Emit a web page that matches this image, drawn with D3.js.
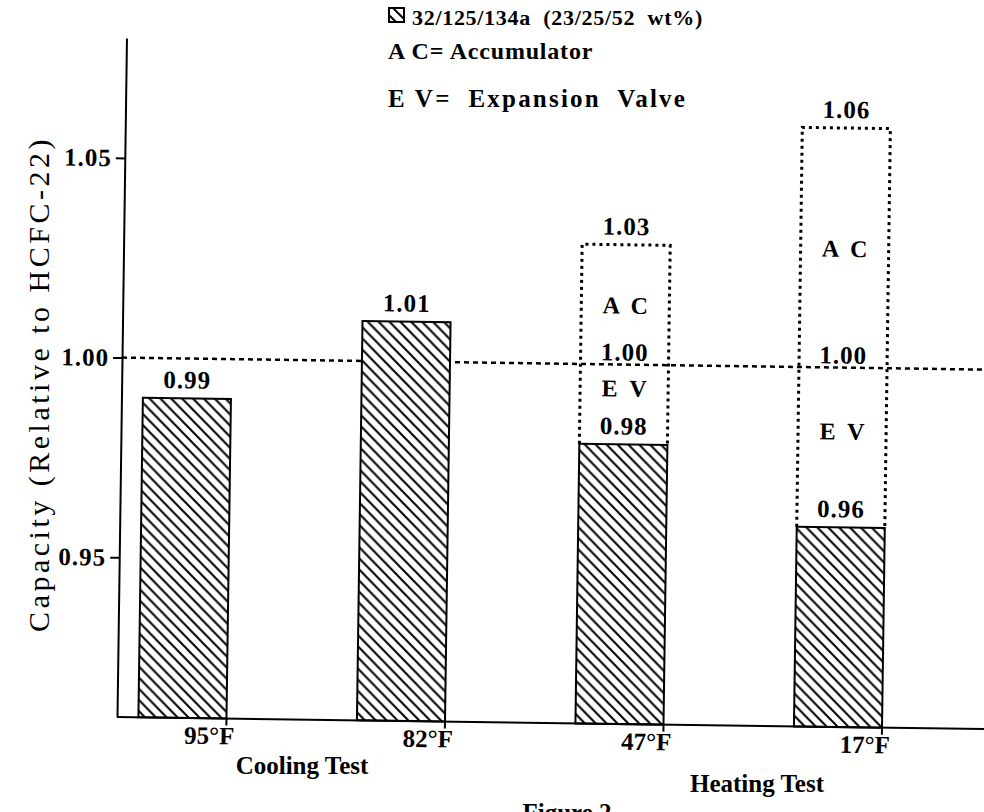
<!DOCTYPE html>
<html>
<head>
<meta charset="utf-8">
<script src="https://cdn.jsdelivr.net/npm/d3@7"></script>
<style>
  html, body { margin: 0; padding: 0; background: #fff; }
  svg { display: block; }
  text { font-family: "Liberation Serif", "Times New Roman", serif; fill: #000; }
</style>
</head>
<body>
<script>
// ---------------- data ----------------
const categories   = ["95°F", "82°F", "47°F", "17°F"];
const capacity     = [0.99, 1.01, 0.98, 0.96];          // hatched bars (EV)
const accumulator  = [null, null, 1.03, 1.06];           // dotted AC boxes
const baselineValue = 1.00;                              // HCFC-22 reference
const yTicks       = [0.95, 1.00, 1.05];
const groupLabels  = ["Cooling Test", "Heating Test"];
const legendSeries = "32/125/134a  (23/25/52  wt%)";
const legendNotes  = ["A C= Accumulator", "E V=  Expansion  Valve"];
const yTitle       = "Capacity (Relative to HCFC-22)";
const caption      = "Figure 2";

// ---------------- setup ----------------
const W = 984, H = 812;
const svg = d3.select("body").append("svg").attr("width", W).attr("height", H);

const defs = svg.append("defs");
const pat = defs.append("pattern").attr("id", "hatch")
  .attr("patternUnits", "userSpaceOnUse").attr("width", 11).attr("height", 11);
pat.append("rect").attr("width", 11).attr("height", 11).attr("fill", "#fff");
pat.append("path").attr("d", "M-3,8 L3,14 M0,0 L11,11 M8,-3 L14,3")
  .attr("stroke", "#000").attr("stroke-width", 2);

const x0 = 117, yBottom = 717;
const g = svg.append("g").attr("transform", `rotate(0.8,${x0},${yBottom})`);

const y = d3.scaleLinear().domain([0.91, 1.08]).range([yBottom, 38]);
const x = d3.scaleBand().domain(categories).range([x0, 903.5])
  .paddingInner(0.597).paddingOuter(0.098);
const bw = x.bandwidth();

const boldFont = (sel, size) => sel.style("font-weight", "bold").style("font-size", size + "px");

// reference dotted line at 1.00
g.append("line")
  .attr("x1", x0).attr("x2", 1010)
  .attr("y1", y(baselineValue)).attr("y2", y(baselineValue))
  .attr("stroke", "#000").attr("stroke-width", 2.5).attr("stroke-dasharray", "5,4");

// dotted accumulator boxes
categories.forEach((c, i) => {
  if (accumulator[i] == null) return;
  const xl = x(c), xr = x(c) + bw;
  g.append("path")
    .attr("d", `M${xl},${y(capacity[i])} V${y(accumulator[i])} H${xr} V${y(capacity[i])}`)
    .attr("fill", "none").attr("stroke", "#000").attr("stroke-width", 3)
    .attr("stroke-dasharray", "3,4");
});

// hatched bars
g.selectAll("rect.bar").data(categories).join("rect").attr("class", "bar")
  .attr("x", d => x(d))
  .attr("y", (d, i) => y(capacity[i]))
  .attr("width", bw)
  .attr("height", (d, i) => yBottom - y(capacity[i]))
  .attr("fill", "url(#hatch)").attr("stroke", "#000").attr("stroke-width", 2);

// value labels on bars
g.selectAll("text.val").data(categories).join("text").attr("class", "val")
  .attr("x", d => x(d) + bw / 2)
  .attr("y", (d, i) => y(capacity[i]) - 10)
  .attr("text-anchor", "middle").style("letter-spacing", "1px")
  .text((d, i) => capacity[i].toFixed(2))
  .call(boldFont, 25);

// box labels
categories.forEach((c, i) => {
  if (accumulator[i] == null) return;
  const cx = x(c) + bw / 2;
  g.append("text").attr("x", cx).attr("y", y(accumulator[i]) - 10)
    .attr("text-anchor", "middle").style("letter-spacing", "1px")
    .text(accumulator[i].toFixed(2)).call(boldFont, 25);
  g.append("text").attr("x", cx).attr("y", y(baselineValue) - 4)
    .attr("text-anchor", "middle").style("letter-spacing", "1px")
    .text(baselineValue.toFixed(2)).call(boldFont, 25);
  const acMid = (y(baselineValue) + y(accumulator[i])) / 2;
  g.append("text").attr("x", cx).attr("y", acMid + 9)
    .attr("text-anchor", "middle").style("white-space", "pre")
    .text("A  C").call(boldFont, 24);
  const evMid = (y(baselineValue) + y(capacity[i])) / 2 - 17;
  g.append("text").attr("x", cx).attr("y", evMid + 9)
    .attr("text-anchor", "middle").style("white-space", "pre")
    .text("E  V").call(boldFont, 24);
});

// y axis
const yAxis = d3.axisLeft(y).tickValues(yTicks).tickFormat(d3.format(".2f"))
  .tickSize(9).tickSizeOuter(0).tickPadding(4);
const gy = g.append("g").attr("transform", `translate(${x0},0)`).call(yAxis);
gy.select(".domain").attr("stroke-width", 2);
gy.selectAll(".tick line").attr("stroke-width", 2);
gy.selectAll(".tick text").style("letter-spacing", "1px").call(boldFont, 25);

// x axis
g.append("line").attr("x1", x0).attr("x2", 1010)
  .attr("y1", yBottom).attr("y2", yBottom)
  .attr("stroke", "#000").attr("stroke-width", 2);
const xAxis = d3.axisBottom(x).tickSize(7).tickSizeOuter(0).tickPadding(1);
const gx = g.append("g").attr("transform", `translate(${bw / 2},${yBottom})`).call(xAxis);
gx.select(".domain").remove();
gx.selectAll(".tick line").attr("stroke-width", 2);
gx.selectAll(".tick text").attr("dx", -17).call(boldFont, 25);

// y title
svg.append("text")
  .attr("transform", "translate(49,384) rotate(-90)")
  .attr("text-anchor", "middle")
  .style("font-size", "30px").style("letter-spacing", "3.5px")
  .text(yTitle);

// group labels & caption
svg.append("text").attr("x", 302).attr("y", 774).attr("text-anchor", "middle")
  .text(groupLabels[0]).call(boldFont, 25);
svg.append("text").attr("x", 757).attr("y", 792).attr("text-anchor", "middle")
  .text(groupLabels[1]).call(boldFont, 25);
svg.append("text").attr("x", 567).attr("y", 821).attr("text-anchor", "middle")
  .text(caption).call(boldFont, 25);

// legend
const lg = svg.append("g");
lg.append("rect").attr("x", 389).attr("y", 8).attr("width", 15).attr("height", 14)
  .attr("fill", "url(#hatch)").attr("stroke", "#000").attr("stroke-width", 2);
lg.append("text").attr("x", 412).attr("y", 25).style("white-space", "pre")
  .style("letter-spacing", "0.7px")
  .text(legendSeries).call(boldFont, 22);
lg.append("text").attr("x", 388).attr("y", 59).style("white-space", "pre")
  .style("letter-spacing", "0.8px")
  .text(legendNotes[0]).call(boldFont, 24);
lg.append("text").attr("x", 388).attr("y", 107).style("white-space", "pre")
  .style("letter-spacing", "2.2px")
  .text(legendNotes[1]).call(boldFont, 25);
</script>
</body>
</html>
